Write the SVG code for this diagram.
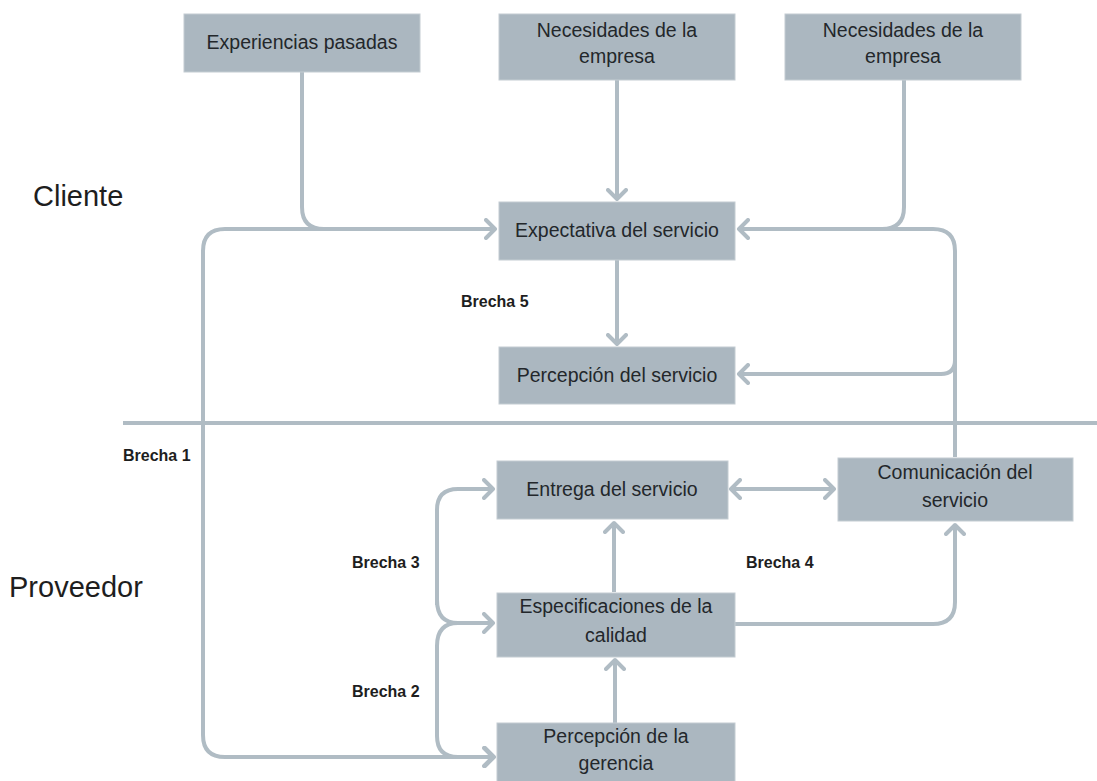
<svg xmlns="http://www.w3.org/2000/svg" width="1097" height="781" viewBox="0 0 1097 781">
<style>
.box{fill:#abb7c0;stroke:#c3ccd2;stroke-width:1}
.t{font-family:"Liberation Sans",Arial,sans-serif;font-size:19.5px;fill:#23272b;text-anchor:middle}
.lane{font-family:"Liberation Sans",Arial,sans-serif;font-size:29px;fill:#1e1e1e}
.gap{font-family:"Liberation Sans",Arial,sans-serif;font-size:16px;font-weight:bold;fill:#1e1e1e}
.c{fill:none;stroke:#b0bcc4;stroke-width:4;stroke-linejoin:round}
.a{marker-end:url(#arr)}
</style>
<defs>
<marker id="arr" viewBox="0 0 14 22" refX="11" refY="11" markerWidth="14" markerHeight="22" markerUnits="userSpaceOnUse" orient="auto-start-reverse">
<path d="M2,2 L11,11 L2,20" fill="none" stroke="#b0bcc4" stroke-width="4" stroke-linecap="round" stroke-linejoin="round"/>
</marker>
</defs>
<rect width="1097" height="781" fill="#ffffff"/>
<g id="connectors">
<line class="c" x1="123" y1="423" x2="1097" y2="423"/>
<path class="c" d="M302 72 V207 Q302 229 324 229"/>
<path class="c a" d="M300 229 H495"/>
<path class="c a" d="M330 229 H225 Q203 229 203 251 V735 Q203 757 225 757 H494"/>
<path class="c a" d="M617 80 V199"/>
<path class="c a" d="M617 260 V344"/>
<path class="c" d="M904 80 V207 Q904 229 882 229"/>
<path class="c a" d="M955 457 V251 Q955 229 933 229 H739"/>
<path class="c a" d="M955 360 Q955 374 941 374 H739"/>
<path class="c a" style="marker-start:url(#arr)" d="M731 489 H834"/>
<path class="c a" d="M614 592 V523"/>
<path class="c a" d="M615 723 V660"/>
<path class="c a" d="M735 624 H933 Q955 624 955 602 V525"/>
<path class="c a" d="M437 605 V510 Q437 489 458 489 H493"/>
<path class="c a" d="M437 600 Q437 623 458 623 H493"/>
<path class="c a" d="M458 623 Q437 623 437 646 V736 Q437 757 458 757 H493"/>
</g>
<g id="n-experiencias"><rect class="box" x="184" y="14" width="236" height="58"/><text class="t" x="302" y="49">Experiencias pasadas</text></g>
<g id="n-necesidades1"><rect class="box" x="499" y="14" width="236" height="66"/><text class="t" x="617" y="37">Necesidades de la</text><text class="t" x="617" y="63">empresa</text></g>
<g id="n-necesidades2"><rect class="box" x="785" y="14" width="236" height="66"/><text class="t" x="903" y="37">Necesidades de la</text><text class="t" x="903" y="63">empresa</text></g>
<g id="n-expectativa"><rect class="box" x="499" y="202" width="236" height="58"/><text class="t" x="617" y="237">Expectativa del servicio</text></g>
<g id="n-percepcion-servicio"><rect class="box" x="499" y="347" width="236" height="57"/><text class="t" x="617" y="382">Percepción del servicio</text></g>
<g id="n-entrega"><rect class="box" x="497" y="461" width="231" height="58"/><text class="t" x="612" y="496">Entrega del servicio</text></g>
<g id="n-comunicacion"><rect class="box" x="838" y="458" width="235" height="63"/><text class="t" x="955" y="479">Comunicación del</text><text class="t" x="955" y="507">servicio</text></g>
<g id="n-especificaciones"><rect class="box" x="497" y="593" width="238" height="64"/><text class="t" x="616" y="613">Especificaciones de la</text><text class="t" x="616" y="642">calidad</text></g>
<g id="n-gerencia"><rect class="box" x="497" y="723" width="238" height="60"/><text class="t" x="616" y="743">Percepción de la</text><text class="t" x="616" y="770">gerencia</text></g>
<g id="labels">
<text class="lane" x="33" y="206">Cliente</text>
<text class="lane" x="9" y="597">Proveedor</text>
<text class="gap" x="461" y="307">Brecha 5</text>
<text class="gap" x="123" y="461">Brecha 1</text>
<text class="gap" x="352" y="568">Brecha 3</text>
<text class="gap" x="352" y="697">Brecha 2</text>
<text class="gap" x="746" y="568">Brecha 4</text>
</g>
</svg>
